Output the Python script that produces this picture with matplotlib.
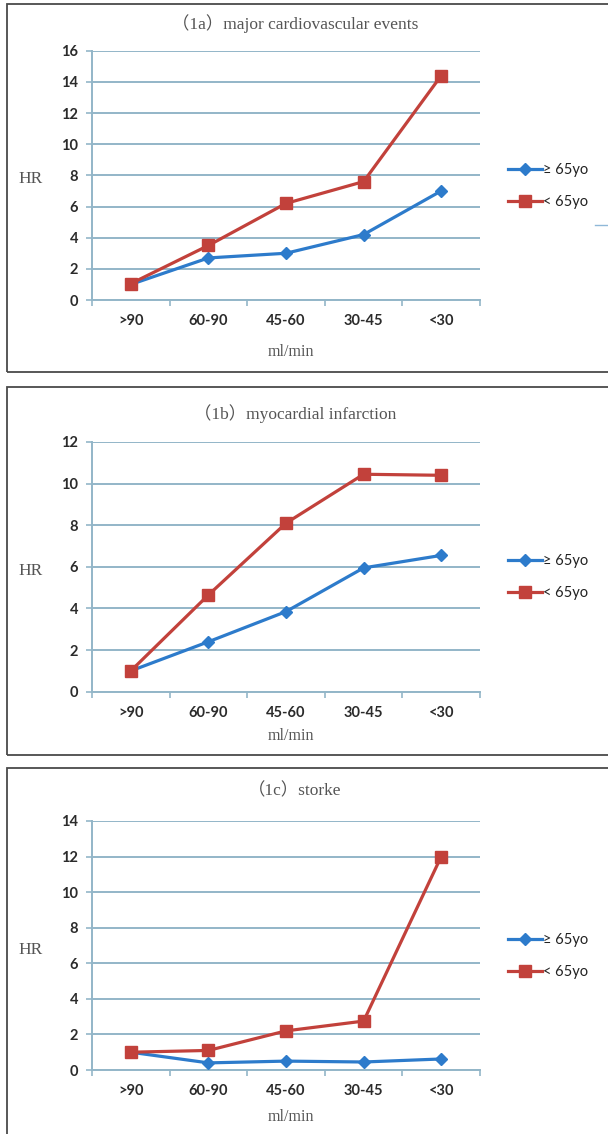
import matplotlib
matplotlib.use('Agg')
import matplotlib.pyplot as plt
from matplotlib.patches import Rectangle
from matplotlib.lines import Line2D
import numpy as np

W, H = 608, 1134

categories = ['>90', '60-90', '45-60', '30-45', '<30']
series_names = ['≥ 65yo', '< 65yo']

titles = ['（1a）major cardiovascular events',
          '（1b）myocardial infarction',
          '（1c）storke']

# HR values
mace_old = [1.0, 2.7, 3.0, 4.2, 7.0]
mace_young = [1.05, 3.5, 6.2, 7.6, 14.4]
mi_old = [1.0, 2.4, 3.85, 5.95, 6.55]
mi_young = [1.0, 4.65, 8.1, 10.45, 10.4]
stroke_old = [1.0, 0.4, 0.5, 0.45, 0.62]
stroke_young = [1.0, 1.1, 2.2, 2.75, 12.0]

y_max = [16, 12, 14]

# layout in pixels (top of axes, bottom of axes, frame top, frame bottom)
panels = [
    dict(top=50.7, bottom=300, ftop=4, fbot=372, title_y=24, xlab_y=352, leg_y=186),
    dict(top=442, bottom=691.7, ftop=387, fbot=755, title_y=414, xlab_y=736, leg_y=577),
    dict(top=821, bottom=1070, ftop=768, fbot=1140, title_y=791, xlab_y=1117, leg_y=956),
]
AX_L, AX_R = 92, 480

BLUE = '#2d7bcb'
RED = '#c2413b'
GRID = '#93b6c8'
SERIF = ['Liberation Serif', 'Noto Sans CJK SC', 'DejaVu Serif']
SANS = ['Lato', 'DejaVu Sans']

fig = plt.figure(figsize=(W / 100, H / 100), dpi=100)
fig.patch.set_facecolor('white')


def fx(px):
    return px / W


def fy(py):
    return 1 - py / H


data = [(mace_old, mace_young), (mi_old, mi_young), (stroke_old, stroke_young)]

for i, p in enumerate(panels):
    # panel frame
    fig.patches.append(Rectangle((fx(7), fy(p['fbot'])), fx(640) - fx(7),
                                 fy(p['ftop']) - fy(p['fbot']),
                                 transform=fig.transFigure, fill=False,
                                 edgecolor='#4a4a4a', linewidth=1.3))

    ax = fig.add_axes([fx(AX_L), fy(p['bottom']), fx(AX_R) - fx(AX_L),
                       fy(p['top']) - fy(p['bottom'])])
    x = np.arange(len(categories))
    old, young = data[i]

    ax.set_xlim(-0.5, len(categories) - 0.5)
    ax.set_ylim(0, y_max[i])
    ax.set_yticks(np.arange(0, y_max[i] + 1, 2))
    ax.yaxis.grid(True, color=GRID, linewidth=1.4)
    ax.set_axisbelow(True)

    ax.plot(x, old, color=BLUE, linewidth=2.3, marker='D', markersize=6.5,
            label=series_names[0], zorder=3, clip_on=False)
    ax.plot(x, young, color=RED, linewidth=2.3, marker='s', markersize=9,
            label=series_names[1], zorder=3, clip_on=False)

    for s in ['top', 'right']:
        ax.spines[s].set_visible(False)
    for s in ['left', 'bottom']:
        ax.spines[s].set_color(GRID)
        ax.spines[s].set_linewidth(1.4)

    ax.set_xticks(x)
    ax.set_xticklabels(categories)
    ax.set_xticks(np.arange(-0.5, len(categories), 1), minor=True)
    ax.tick_params(axis='x', which='major', length=0, pad=10)
    ax.tick_params(axis='x', which='minor', length=4, width=1.2, color=GRID, direction='out')
    ax.tick_params(axis='y', length=4, width=1.2, color=GRID, pad=6)
    for lab in ax.get_xticklabels() + ax.get_yticklabels():
        lab.set_family(SANS)
        lab.set_fontweight('bold')
        lab.set_fontsize(10.5)
        lab.set_color('#2b2b2b')

    fig.text(fx(295), fy(p['title_y']), titles[i], family=SERIF, fontsize=12.5,
             color='#555555', ha='center', va='center')
    fig.text(fx(31), fy((p['top'] + p['bottom']) / 2 + 4), 'HR', family=SERIF,
             fontsize=12.5, color='#555555', ha='center', va='center')
    fig.text(fx(291), fy(p['xlab_y']), 'ml/min', family=SERIF, fontsize=11.5,
             color='#555555', ha='center', va='center')

    leg = ax.legend(loc='center left', bbox_to_anchor=(fx(508), fy(p['leg_y'])),
                    bbox_transform=fig.transFigure, frameon=False, borderpad=0,
                    borderaxespad=0, handlelength=2.3, handletextpad=0.1,
                    labelspacing=1.25, prop={'family': SANS, 'size': 10.5})
    for t in leg.get_texts():
        t.set_color('#222222')

# small stray line at the right edge of the first panel
fig.lines.append(Line2D([fx(595), fx(608)], [fy(225), fy(225)],
                        transform=fig.transFigure, color='#8fb8d8', linewidth=1))

fig.savefig('out.png', dpi=100)
